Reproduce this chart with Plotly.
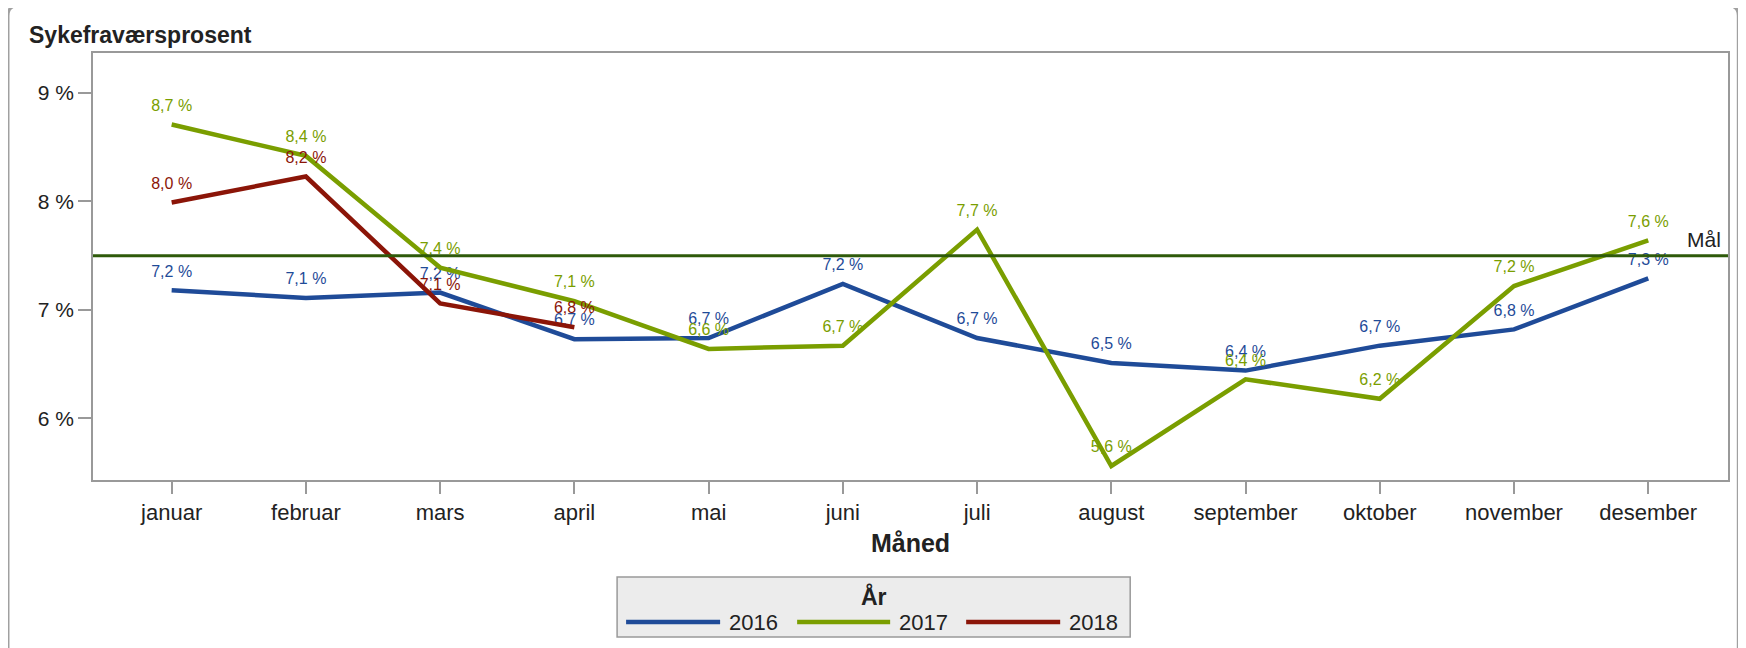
import plotly.graph_objects as go

# ---------------- data ----------------
months = ["januar", "februar", "mars", "april", "mai", "juni", "juli",
          "august", "september", "oktober", "november", "desember"]
y2016 = [7.18, 7.11, 7.16, 6.73, 6.74, 7.24, 6.74, 6.51, 6.44, 6.67, 6.82, 7.29]
y2017 = [8.71, 8.42, 7.39, 7.08, 6.64, 6.67, 7.74, 5.56, 6.36, 6.18, 7.22, 7.64]
y2018 = [7.99, 8.23, 7.06, 6.84]
target = 7.5
years = ["2016", "2017", "2018"]
y_ticks = [6, 7, 8, 9]
y_ticktext = ["6 %", "7 %", "8 %", "9 %"]

colors = {"2016": "#1F4B98", "2017": "#7A9E00", "2018": "#8B1508"}
target_color = "#2E5A0A"
series = {"2016": y2016, "2017": y2017, "2018": y2018}

W, H = 1746, 648
OFF = 8  # page body margin offset
# plot area in reference pixels
RL, RR, RT, RB = 93, 1727.7, 53.3, 480
L, R, T, B = RL - OFF, RR - OFF, RT - OFF, RB - OFF
FONT = "Liberation Sans, Arial, sans-serif"


def px(xp):
    return (xp - RL) / (RR - RL)


def py(yp):
    return (RB - yp) / (RB - RT)


shapes = []
annotations = []

# target line
shapes.append(dict(type="line", xref="paper", yref="y", x0=0, x1=1,
                   y0=target, y1=target,
                   line=dict(color=target_color, width=3)))
annotations.append(dict(x=1, xref="paper", y=target, yref="y", text="Mål",
                        showarrow=False, xanchor="right", yanchor="bottom",
                        xshift=-5, yshift=3,
                        font=dict(family=FONT, size=21, color="#222")))

# outer frame with rounded top corners
fx0, fx1, fy0, fyb, r = 8, 1738, 6, 700, 10
path = (f"M {px(fx0)},{py(fyb)} L {px(fx0)},{py(fy0 + r)} "
        f"Q {px(fx0)},{py(fy0)} {px(fx0 + r)},{py(fy0)} "
        f"L {px(fx1 - r)},{py(fy0)} Q {px(fx1)},{py(fy0)} {px(fx1)},{py(fy0 + r)} "
        f"L {px(fx1)},{py(fyb)}")
shapes.append(dict(type="path", xref="paper", yref="paper", path=path,
                   line=dict(color="#A0A0A0", width=3), layer="above"))
# small tab at top
shapes.append(dict(type="rect", xref="paper", yref="paper",
                   x0=px(827), x1=px(913), y0=py(7.5), y1=py(2),
                   fillcolor="#7A7A7A", line=dict(width=0)))

# title
annotations.append(dict(x=px(27), y=py(35), xref="paper", yref="paper",
                        text="<b>Sykefraværsprosent</b>", showarrow=False,
                        xanchor="left", yanchor="middle",
                        font=dict(family=FONT, size=23, color="#222")))

# custom legend
shapes.append(dict(type="rect", xref="paper", yref="paper",
                   x0=px(617), x1=px(1130), y0=py(637), y1=py(577),
                   fillcolor="#ECECEC", line=dict(color="#999999", width=1.5)))
annotations.append(dict(x=px(874), y=py(596), xref="paper", yref="paper",
                        text="<b>År</b>", showarrow=False, xanchor="center",
                        yanchor="middle",
                        font=dict(family=FONT, size=23, color="#222")))
leg_pos = {"2016": (626, 720, 727), "2017": (797, 890, 897), "2018": (966, 1060, 1067)}
for yr in years:
    a, b, t = leg_pos[yr]
    shapes.append(dict(type="line", xref="paper", yref="paper",
                       x0=px(a), x1=px(b), y0=py(622), y1=py(622),
                       line=dict(color=colors[yr], width=4.5)))
    annotations.append(dict(x=px(t), y=py(622), xref="paper", yref="paper",
                            text=yr, showarrow=False, xanchor="left",
                            yanchor="middle",
                            font=dict(family=FONT, size=22, color="#222")))

fig = go.Figure()
for yr in years:
    vals = series[yr]
    fig.add_trace(go.Scatter(
        x=months[:len(vals)], y=vals, name=yr,
        mode="lines+markers+text",
        line=dict(color=colors[yr], width=4.5),
        marker=dict(size=14, opacity=0, color=colors[yr]),
        texttemplate="%{y:.1f} %", textposition="top center",
        textfont=dict(family=FONT, size=16, color=colors[yr]),
        showlegend=False, hoverinfo="skip", cliponaxis=False,
    ))

fig.update_layout(
    width=W, height=H,
    margin=dict(l=L, r=W - R, t=T, b=H - B, autoexpand=False),
    paper_bgcolor="white", plot_bgcolor="white",
    separators=", ",
    showlegend=False,
    shapes=shapes, annotations=annotations,
    font=dict(family=FONT, color="#222"),
)
fig.update_xaxes(
    type="category", categoryorder="array", categoryarray=months,
    range=[-0.586, 11.594],
    showgrid=False, zeroline=False,
    showline=True, linecolor="#999999", linewidth=1.5, mirror=True,
    ticks="outside", ticklen=12, tickcolor="#999999", tickwidth=1.5,
    tickfont=dict(family=FONT, size=22, color="#222"),
    title=dict(text="<b>Måned</b>", font=dict(family=FONT, size=25, color="#222"),
               standoff=10),
)
fig.update_yaxes(
    range=[5.431, 9.369], tickmode="array", tickvals=y_ticks, ticktext=y_ticktext,
    showgrid=False, zeroline=False,
    showline=True, linecolor="#999999", linewidth=1.5, mirror=True,
    ticks="outside", ticklen=13, tickcolor="#999999", tickwidth=1.5,
    tickfont=dict(family=FONT, size=21, color="#222"),
)

fig.write_html("out.html")
